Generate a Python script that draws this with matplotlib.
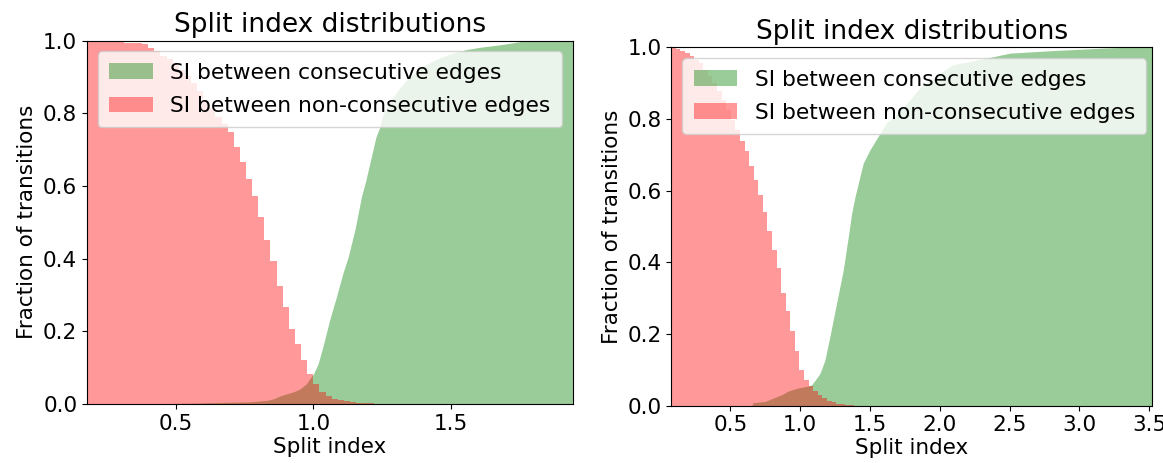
import numpy as np
import matplotlib
matplotlib.use("Agg")
import matplotlib.pyplot as plt

# ---------------- data ----------------
# Left panel: reverse-cumulative fraction (non-consecutive), 50 equal bins
red_left_start = 0.178
red_left_width = 0.0222
red_left = [1.0, 1.0, 1.0, 1.0, 0.998, 0.995, 0.994, 0.993, 0.992, 0.990,
            0.980, 0.970, 0.958, 0.948, 0.937, 0.920, 0.902, 0.883, 0.860, 0.837,
            0.814, 0.790, 0.770, 0.748, 0.708, 0.666, 0.618, 0.572, 0.514, 0.451,
            0.393, 0.326, 0.267, 0.207, 0.166, 0.122, 0.083, 0.056, 0.033, 0.021,
            0.014, 0.010, 0.007, 0.005, 0.004, 0.003, 0.002, 0.001, 0.001, 0.0005]
# Left panel: cumulative fraction (consecutive)
green_left_x = [0.45, 0.50, 0.59, 0.70, 0.77, 0.83, 0.854, 0.878, 0.902, 0.926,
                0.95, 0.975, 0.987, 1.0, 1.017, 1.035, 1.059, 1.083, 1.107, 1.126,
                1.15, 1.174, 1.19, 1.21, 1.227, 1.24, 1.252, 1.28, 1.313, 1.34,
                1.373, 1.41, 1.458, 1.50, 1.554, 1.61, 1.675, 1.735, 1.772, 1.94]
green_left_y = [0.0, 0.002, 0.003, 0.005, 0.006, 0.010, 0.014, 0.022, 0.028, 0.033,
                0.041, 0.056, 0.070, 0.083, 0.111, 0.160, 0.232, 0.294, 0.360, 0.405,
                0.478, 0.570, 0.615, 0.680, 0.735, 0.760, 0.796, 0.835, 0.869, 0.893,
                0.915, 0.935, 0.952, 0.964, 0.975, 0.982, 0.988, 0.995, 1.0, 1.0]
xlim_left = (0.178, 1.942)
xticks_left = [0.5, 1.0, 1.5]

# Right panel
red_right_start = 0.077
red_right_width = 0.0328
red_right = [1.0, 0.995, 0.991, 0.984, 0.975, 0.966, 0.956, 0.938, 0.919, 0.901,
             0.877, 0.854, 0.826, 0.798, 0.770, 0.738, 0.710, 0.668, 0.631, 0.589,
             0.541, 0.487, 0.435, 0.384, 0.315, 0.263, 0.208, 0.152, 0.100, 0.073,
             0.054, 0.040, 0.031, 0.022, 0.014, 0.009, 0.006, 0.004, 0.002, 0.001]
green_right_x = [0.655, 0.66, 0.75, 0.80, 0.87, 0.91, 0.98, 1.05, 1.082, 1.12,
                 1.142, 1.178, 1.213, 1.261, 1.309, 1.345, 1.369, 1.393, 1.428, 1.452,
                 1.50, 1.572, 1.62, 1.672, 1.744, 1.80, 1.858, 1.95, 2.097, 2.31,
                 2.503, 2.8, 3.171, 3.3, 3.52]
green_right_y = [0.0, 0.008, 0.012, 0.020, 0.031, 0.040, 0.049, 0.054, 0.058, 0.078,
                 0.090, 0.128, 0.193, 0.286, 0.379, 0.472, 0.537, 0.583, 0.639, 0.677,
                 0.714, 0.760, 0.790, 0.805, 0.835, 0.860, 0.887, 0.915, 0.952, 0.968,
                 0.984, 0.991, 0.998, 1.0, 1.0]
xlim_right = (0.077, 3.52)
xticks_right = [0.5, 1.0, 1.5, 2.0, 2.5, 3.0, 3.5]

yticks = [0.0, 0.2, 0.4, 0.6, 0.8, 1.0]
title = "Split index distributions"
xlabel = "Split index"
ylabel = "Fraction of transitions"
label_green = "SI between consecutive edges"
label_red = "SI between non-consecutive edges"

# ---------------- figure ----------------
FS = 15.5
fig = plt.figure(figsize=(11.63, 4.63), dpi=100)
ax1 = fig.add_axes([0.0748, 0.1274, 0.4179, 0.7851])
ax2 = fig.add_axes([0.5772, 0.1238, 0.4133, 0.7738])


def panel(ax, gx, gy, rstart, rwidth, rvals, xlim, xticks):
    ax.fill_between(gx, 0, gy, color="g", alpha=0.4, linewidth=0,
                    label=label_green)
    edges = rstart + rwidth * np.arange(len(rvals) + 1)
    ax.stairs(rvals, edges, fill=True, color="r", alpha=0.4, linewidth=0,
              label=label_red)
    ax.set_xlim(*xlim)
    ax.set_ylim(0, 1.0)
    ax.set_xticks(xticks)
    ax.set_yticks(yticks)
    ax.tick_params(labelsize=FS)
    ax.set_title(title, fontsize=19)
    ax.set_xlabel(xlabel, fontsize=FS, labelpad=2)
    ax.set_ylabel(ylabel, fontsize=FS)
    ax.legend(loc="upper left", fontsize=15.7, labelspacing=0.6, borderpad=0.52)


panel(ax1, green_left_x, green_left_y, red_left_start, red_left_width,
      red_left, xlim_left, xticks_left)
panel(ax2, green_right_x, green_right_y, red_right_start, red_right_width,
      red_right, xlim_right, xticks_right)

fig.savefig("out.png", dpi=100)
